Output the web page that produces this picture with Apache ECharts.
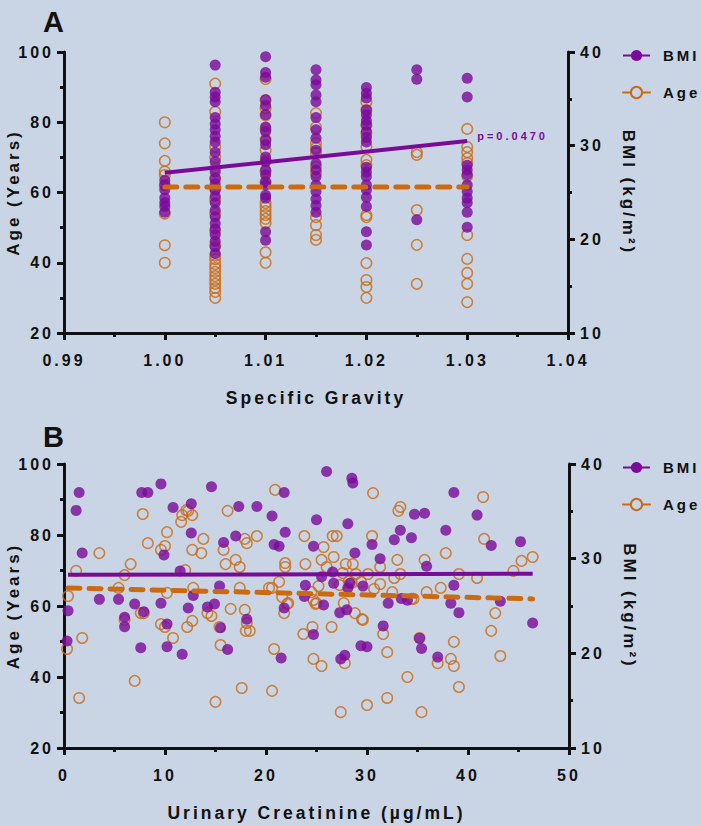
<!DOCTYPE html>
<html>
<head>
<meta charset="utf-8">
<script src="https://cdn.jsdelivr.net/npm/echarts@6/dist/echarts.min.js"></script>
<style>
  html, body { margin: 0; padding: 0; background: #c9d4e4; }
  #chart { width: 701px; height: 826px; }
  /* the original uses widely spaced bold lettering */
  #chart svg text { letter-spacing: 3px; }
</style>
</head>
<body>
<div id="chart"></div>
<script>
// Panel A: specific gravity levels, BMI (kg/m2) and Age (years) per level
const sgLevels = [1.000, 1.005, 1.010, 1.015, 1.020, 1.025, 1.030];
const bmiBySg = [
  [26.3, 25.8, 25.3, 24.4, 23.9, 23.5, 22.9],
  [38.6, 35.7, 35.2, 34.7, 33.0, 32.3, 31.7, 31.0, 30.4, 29.3, 28.3, 27.2, 26.5, 25.9, 25.3, 24.6, 23.9, 23.1, 22.4, 21.7, 21.1, 20.5, 19.8, 19.2, 18.5],
  [39.5, 37.8, 37.3, 34.9, 34.3, 33.3, 32.0, 31.5, 30.6, 30.1, 28.8, 28.3, 27.4, 26.9, 26.1, 25.8, 24.7, 24.4, 20.8, 19.9],
  [38.1, 37.0, 36.5, 35.4, 34.7, 33.0, 31.7, 30.8, 29.5, 28.1, 27.4, 26.7, 25.8, 25.1, 24.3, 23.6, 22.9],
  [36.2, 35.6, 35.1, 33.8, 33.3, 32.7, 32.2, 31.5, 30.9, 30.4, 27.7, 27.2, 26.7, 25.8, 25.3, 24.5, 23.5, 20.8, 19.4],
  [38.1, 37.1, 22.1],
  [37.2, 35.2, 27.9, 27.4, 26.9, 25.8, 25.1, 24.4, 23.9, 22.9, 21.3]
];
const ageBySg = [
  [80, 74, 69, 66, 65, 62, 54, 45, 40],
  [91, 83, 73, 70, 67, 64, 61, 58, 54, 49, 45, 42, 41, 39.6, 38.5, 37.4, 36.2, 35.1, 34, 32.8, 31.7, 30],
  [92.3, 86.3, 84, 82, 78, 75, 72, 69, 66, 63, 57, 55.9, 54.7, 53.6, 52.5, 51.3, 43, 40],
  [82.6, 78.6, 74.1, 72.7, 71.2, 67.3, 65.6, 53, 50.7, 47.9, 46.5],
  [85.8, 83.5, 79.2, 76.9, 73, 69.3, 67.8, 53.6, 53, 39.9, 35.1, 33.1, 30],
  [71.5, 70.7, 55, 45.1, 34],
  [78.1, 73, 71.5, 69.8, 68.4, 64.7, 47.9, 41.1, 37.1, 34, 28.8]
];
const sgBmiFit = [[1.000, 27.1], [1.030, 30.5]];
const sgAgeFit = [[1.000, 61.6], [1.030, 61.6]];
const sgPValue = 'p=0.0470';

// Panel B: urinary creatinine (ug/mL) vs BMI and Age
const crBmi = [
  [0.4, 24.5], [1.2, 35.1], [1.5, 37.0], [1.8, 30.6], [3.5, 25.7], [5.4, 25.7], [6.0, 23.8], [7.0, 25.2],
  [7.7, 37.0], [8.3, 37.0], [9.6, 37.9], [9.9, 30.4], [9.6, 25.3], [10.8, 35.4], [11.5, 28.7], [12.3, 24.8],
  [12.6, 35.8], [12.6, 32.7], [12.8, 26.1], [14.2, 24.9], [14.6, 37.6], [14.9, 25.2], [15.4, 27.1], [15.8, 31.7],
  [17.0, 32.4], [17.3, 35.5], [18.1, 23.6], [19.1, 35.5], [20.6, 34.5], [20.8, 31.5], [21.3, 31.3], [21.8, 37.0],
  [21.9, 32.8], [21.8, 24.8], [23.9, 27.2], [23.8, 26.0], [24.7, 31.3], [25.0, 34.1], [25.5, 28.1], [25.7, 25.1],
  [26.0, 39.2], [26.6, 28.6], [26.7, 27.4], [27.3, 24.3], [28.0, 24.6], [28.1, 33.7], [28.5, 38.5], [28.6, 38.0],
  [28.1, 26.9], [28.3, 27.4], [28.8, 30.6], [30.5, 31.5], [31.3, 30.0], [32.7, 32.0], [33.3, 33.0], [34.4, 32.2],
  [34.7, 34.7], [35.7, 34.8], [35.9, 29.2], [37.8, 33.0], [38.6, 37.0], [38.6, 27.2], [40.9, 34.6], [42.3, 31.4],
  [45.2, 31.8], [43.2, 25.5], [38.3, 25.3], [39.1, 24.3], [33.4, 25.8], [34.0, 25.6], [32.1, 25.3], [29.6, 27.1],
  [46.4, 23.2], [0.3, 21.3], [6.0, 22.8], [7.6, 20.6], [7.9, 24.4], [10.2, 23.1], [10.2, 20.7], [11.7, 19.9],
  [15.5, 22.7], [16.2, 20.4], [21.5, 19.5], [24.7, 22.0], [27.4, 19.4], [27.8, 19.8], [29.4, 20.8], [30.0, 20.7],
  [31.6, 22.9], [35.2, 21.6], [35.4, 20.5], [37.0, 19.6]
];
const crAge = [
  [0.4, 62.8], [1.2, 69.9], [3.5, 74.9], [5.4, 65.1], [6.0, 68.7], [6.6, 71.8], [7.8, 85.9], [8.3, 77.7],
  [7.6, 58.0], [7.9, 58.0], [9.6, 75.8], [10.0, 76.9], [10.2, 80.8], [10.2, 63.7], [11.6, 83.7], [11.7, 85.6],
  [12.1, 87.0], [12.3, 86.8], [12.7, 85.6], [12.0, 70.1], [12.7, 75.8], [12.8, 65.1], [13.6, 74.9], [13.8, 78.9],
  [14.2, 58.0], [14.6, 57.2], [15.8, 75.8], [16.0, 71.8], [16.2, 86.8], [16.5, 59.2], [17.0, 73.0], [17.4, 71.0],
  [17.4, 65.1], [17.9, 78.9], [18.1, 77.7], [17.9, 58.9], [19.1, 79.7], [20.3, 65.1], [20.6, 65.1], [20.9, 92.7],
  [21.3, 66.8], [21.6, 62.5], [21.9, 72.1], [21.9, 71.0], [21.8, 58.0], [22.2, 60.8], [23.8, 79.7], [23.9, 71.8],
  [24.5, 63.9], [24.7, 61.7], [25.0, 60.8], [25.2, 65.6], [25.5, 73.0], [25.7, 76.6], [26.0, 71.0], [26.6, 79.7],
  [27.0, 79.7], [26.7, 73.8], [27.9, 71.8], [27.6, 69.3], [27.3, 65.9], [27.7, 60.8], [28.2, 67.0], [30.6, 91.8],
  [33.3, 87.9], [33.1, 86.8], [41.5, 90.7], [30.5, 79.7], [41.6, 78.9], [37.8, 74.9], [35.7, 73.0], [33.0, 73.0],
  [31.3, 71.0], [30.1, 69.0], [28.6, 71.8], [28.9, 69.0], [28.5, 66.5], [29.4, 66.8], [33.3, 69.0], [32.7, 67.9],
  [31.3, 66.2], [30.7, 64.8], [32.5, 63.9], [34.4, 62.0], [34.6, 62.0], [35.9, 63.9], [37.3, 65.1], [39.1, 69.0],
  [40.9, 67.9], [44.5, 69.9], [45.3, 72.7], [46.4, 73.8], [42.7, 58.0], [28.8, 58.0], [29.5, 56.3], [0.3, 47.9],
  [1.8, 51.0], [1.5, 34.1], [6.0, 56.1], [7.0, 38.9], [9.6, 54.9], [10.0, 54.1], [10.8, 51.0], [12.2, 54.1],
  [12.7, 55.8], [15.4, 54.1], [15.5, 49.0], [15.0, 33.0], [18.1, 55.2], [18.0, 53.0], [18.4, 53.0], [17.6, 36.9],
  [20.6, 36.1], [20.8, 47.9], [22.1, 60.6], [23.7, 52.1], [24.6, 54.1], [24.7, 45.1], [25.5, 43.1], [24.9, 60.6],
  [26.5, 54.1], [27.8, 43.9], [27.4, 30.1], [29.6, 56.1], [30.0, 32.1], [31.6, 52.1], [32.0, 47.0], [32.0, 34.1],
  [34.0, 40.0], [35.2, 51.0], [35.4, 30.1], [37.0, 43.9], [38.3, 45.1], [38.6, 49.9], [38.6, 43.1], [39.1, 37.2],
  [42.3, 53.0], [43.2, 45.9]
];
const crBmiFit = [[0.4, 28.3], [46.4, 28.4]];
const crAgeFit = [[0.4, 65.1], [46.4, 62.0]];

const BG = '#c9d4e4';
const PURPLE = '#7a0a9a';
const ORANGE = '#cc6a12';
const INK = '#111111';
const FONT = '"Liberation Sans", Arial, sans-serif';

function expand(levels, groups) {
  const out = [];
  groups.forEach((vals, i) => vals.forEach(v => out.push([levels[i], v])));
  return out;
}

const axisLineStyle = { show: true, lineStyle: { color: INK, width: 3 } };
const tickStyle = { show: true, length: 7, lineStyle: { color: INK, width: 3 } };
const minorStyle = { show: true, splitNumber: 2, length: 4, lineStyle: { color: INK, width: 3 } };
const labelStyle = { color: INK, fontWeight: 'bold', fontSize: 16, fontFamily: FONT };
const nameStyle = { color: INK, fontWeight: 'bold', fontSize: 17, fontFamily: FONT };

function xAxisFor(gridIndex, min, max, interval, name, fmt) {
  return {
    type: 'value', gridIndex, min, max, interval, name,
    nameLocation: 'middle', nameGap: 56,
    nameTextStyle: Object.assign({}, nameStyle, { fontSize: 17.5 }),
    axisLine: axisLineStyle, axisTick: tickStyle, minorTick: minorStyle,
    splitLine: { show: false },
    axisLabel: Object.assign({ margin: 19, formatter: fmt }, labelStyle)
  };
}
function yAxisFor(gridIndex, pos, min, max, interval, name) {
  const right = pos === 'right';
  return {
    type: 'value', gridIndex, position: pos, min, max, interval, name,
    nameLocation: 'middle', nameGap: right ? 52 : 42, nameRotate: right ? -90 : 90,
    nameMoveOverlap: false,
    nameTextStyle: nameStyle,
    axisLine: axisLineStyle, axisTick: tickStyle, minorTick: minorStyle,
    splitLine: { show: false },
    axisLabel: Object.assign({ margin: right ? 12 : 10 }, labelStyle)
  };
}

function fitLine(name, xi, yi, data, dashed, extra) {
  return Object.assign({
    type: 'line', name, xAxisIndex: xi, yAxisIndex: yi, data,
    symbol: 'circle', showSymbol: false, z: 4, silent: true,
    itemStyle: { color: dashed ? ORANGE : PURPLE },
    lineStyle: dashed
      ? { color: ORANGE, width: 5, type: [12, 9], cap: 'round' }
      : { color: PURPLE, width: 4 }
  }, extra || {});
}
function dots(name, xi, yi, data, hollow) {
  return {
    type: 'scatter', name, xAxisIndex: xi, yAxisIndex: yi, data,
    symbol: 'circle', symbolSize: hollow ? 10.5 : 11, z: hollow ? 2 : 3,
    itemStyle: hollow
      ? { color: 'rgba(0,0,0,0)', borderColor: ORANGE, borderWidth: 1.5 }
      : { color: PURPLE }
  };
}

function legendAt(top) {
  return {
    orient: 'vertical', left: 622, top, itemWidth: 27, itemHeight: 14, itemGap: 22,
    padding: 0, selectedMode: false,
    lineStyle: { type: 'solid' },
    textStyle: { color: INK, fontWeight: 'bold', fontSize: 15, fontFamily: FONT, padding: [0, 0, 0, 8] },
    data: [
      'BMI',
      { name: 'Age', itemStyle: { color: BG, borderColor: ORANGE, borderWidth: 2 } }
    ]
  };
}

const chart = echarts.init(document.getElementById('chart'), null, { renderer: 'svg' });

chart.setOption({
  backgroundColor: BG,
  animation: false,
  textStyle: { fontFamily: FONT },
  title: [
    { text: 'A', left: 38, top: 2, textStyle: { color: INK, fontSize: 29, fontWeight: 'bold', fontFamily: FONT } },
    { text: 'B', left: 38, top: 417, textStyle: { color: INK, fontSize: 29, fontWeight: 'bold', fontFamily: FONT } }
  ],
  legend: [legendAt(48), legendAt(460)],
  grid: [
    { left: 64, right: 133, top: 52, bottom: 493, outerBoundsMode: 'none', containLabel: false },
    { left: 64, right: 132, top: 464, bottom: 78, outerBoundsMode: 'none', containLabel: false }
  ],
  xAxis: [
    xAxisFor(0, 0.99, 1.04, 0.01, 'Specific Gravity', v => v.toFixed(2)),
    xAxisFor(1, 0, 50, 10, 'Urinary Creatinine (\u00b5g/mL)', v => String(v))
  ],
  yAxis: [
    yAxisFor(0, 'left', 20, 100, 20, 'Age (Years)'),
    yAxisFor(0, 'right', 10, 40, 10, 'BMI (kg/m\u00b2)'),
    yAxisFor(1, 'left', 20, 100, 20, 'Age (Years)'),
    yAxisFor(1, 'right', 10, 40, 10, 'BMI (kg/m\u00b2)')
  ],
  series: [
    // regression lines first so the legend picks up their line+marker icon
    fitLine('BMI', 0, 1, sgBmiFit, false, {
      endLabel: {
        show: true, formatter: sgPValue, color: PURPLE, fontSize: 11,
        fontWeight: 'bold', fontFamily: FONT, distance: 10, offset: [0, -5]
      }
    }),
    fitLine('Age', 0, 0, sgAgeFit, true),
    fitLine('BMI', 1, 3, crBmiFit, false),
    fitLine('Age', 1, 2, crAgeFit, true),
    dots('BMI', 0, 1, expand(sgLevels, bmiBySg), false),
    dots('Age', 0, 0, expand(sgLevels, ageBySg), true),
    dots('BMI', 1, 3, crBmi, false),
    dots('Age', 1, 2, crAge, true)
  ]
});
</script>
</body>
</html>
